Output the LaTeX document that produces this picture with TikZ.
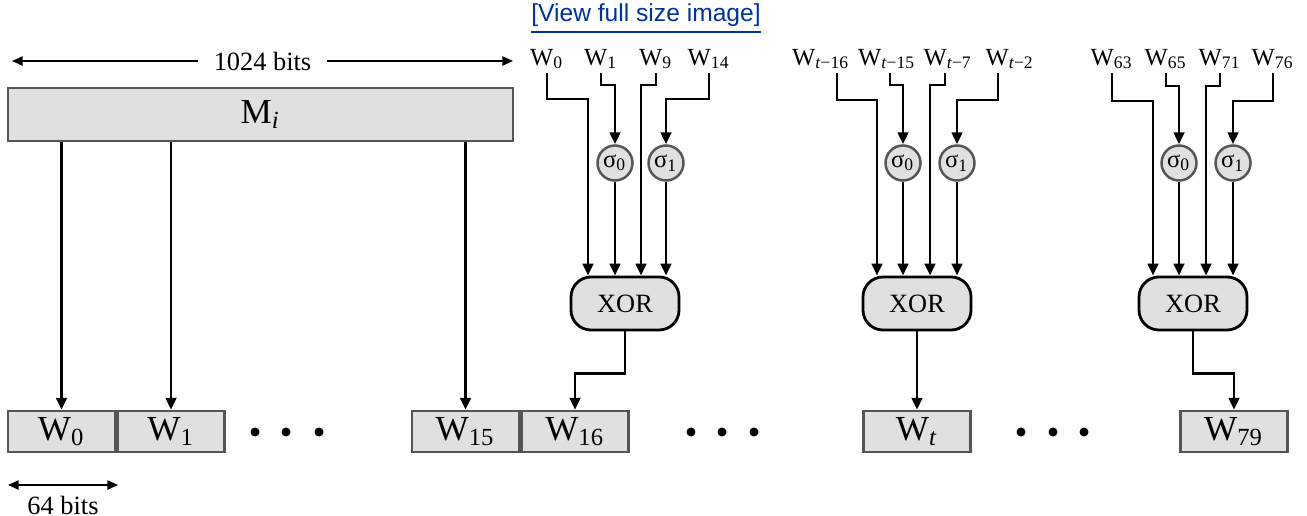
\documentclass[tikz,border=0pt]{standalone}
\usepackage{fontspec}
\setmainfont{Liberation Serif}
\newfontfamily\linkfont{Liberation Sans}
\usetikzlibrary{arrows.meta,positioning}
\definecolor{boxgray}{RGB}{224,224,224}
\definecolor{edgegray}{RGB}{85,85,85}
\definecolor{linkblue}{RGB}{0,51,153}

\begin{document}
\begin{tikzpicture}[
  x=0.01cm, y=-0.01cm,
  wbox/.style={rectangle, draw=edgegray, fill=boxgray, line width=0.7pt, minimum width=1.07cm, minimum height=0.41cm, inner sep=0pt, font=\fontsize{10}{12}\selectfont},
  xorbox/.style={rectangle, rounded corners=0.2cm, draw, fill=boxgray, line width=0.8pt, minimum width=1.08cm, minimum height=0.53cm, inner sep=0pt, font=\fontsize{7.5}{9}\selectfont},
  sig/.style={circle, draw=edgegray, fill=boxgray, line width=0.7pt, minimum size=0.35cm, inner sep=0pt, font=\fontsize{7}{8}\selectfont},
  lbl/.style={anchor=south, inner sep=1pt, font=\fontsize{7}{8}\selectfont},
  arr/.style={draw, line width=0.8pt, -{Triangle[length=3.4pt,width=3pt]}},
  dim/.style={draw, line width=0.5pt, {Triangle[length=3pt,width=2.6pt]}-{Triangle[length=3pt,width=2.6pt]}},
  dot/.style={circle, fill, inner sep=0pt, minimum size=0.09cm}
]
\useasboundingbox (0,0) rectangle (1307,516);

\node[text=linkblue, font=\linkfont\fontsize{7}{8}\selectfont] (link) at (646,19) {\underline{[View full size image]}};

% message block
\coordinate (dl) at (12,61);
\coordinate (dr) at (513,61);
\draw[dim] (dl) -- node[fill=white, inner sep=4.5pt, font=\fontsize{7.5}{9}\selectfont] {1024 bits} (dr);
\node[wbox, minimum width=5.05cm, minimum height=0.53cm] (mi) at (260.5,114.5) {M\textsubscript{\textit{i}}};

% word row
\node[wbox] (w0) at (61.5,431.5) {W\textsubscript{0}};
\node[wbox, right=0pt of w0] (w1) {W\textsubscript{1}};
\node[wbox] (w15) at (465.5,431.5) {W\textsubscript{15}};
\node[wbox, right=0pt of w15] (w16) {W\textsubscript{16}};
\node[wbox] (wt) at (917,431.5) {W\textsubscript{\textit{t}}};
\node[wbox] (w79) at (1234,431.5) {W\textsubscript{79}};
\foreach \x in {255,286,319,691,722,754,1021,1053,1084}
  \node[dot] at (\x,432) {};

\coordinate (bl) at (8,485);
\coordinate (br) at (118,485);
\draw[dim] (bl) -- (br);
\node[font=\fontsize{7.5}{9}\selectfont] (bits) at (63,505) {64 bits};

\draw[arr] (w0 |- mi.south) -- (w0.north);
\draw[arr] (w1 |- mi.south) -- (w1.north);
\draw[arr] (w15 |- mi.south) -- (w15.north);

% first expansion
\node[lbl] (a0) at (547,73) {W\textsubscript{0}};
\node[lbl] (a1) at (601,73) {W\textsubscript{1}};
\node[lbl] (a2) at (656,73) {W\textsubscript{9}};
\node[lbl] (a3) at (709,73) {W\textsubscript{14}};
\node[sig] (s10) at (615,163) {σ\textsubscript{0}};
\node[sig] (s11) at (666,163) {σ\textsubscript{1}};
\node[xorbox] (xor1) at (625,303.5) {XOR};
\draw[arr] (a0.south) -- ++(0,26) -| ([xshift=-0.37cm]xor1.north);
\draw[arr] (a1.south) -- ++(0,12) -| (s10.north);
\draw[arr] (s10.south) -- (s10 |- xor1.north);
\draw[arr] (a2.south) -- ++(0,12) -| ([xshift=0.16cm]xor1.north);
\draw[arr] (a3.south) -- ++(0,26) -| (s11.north);
\draw[arr] (s11.south) -- (s11 |- xor1.north);
\draw[arr] (xor1.south) -- ++(0,42) -| (w16.north);

% general step t
\node[lbl] (b0) at (821,73) {W\textsubscript{\textit{t}−16}};
\node[lbl] (b1) at (887,73) {W\textsubscript{\textit{t}−15}};
\node[lbl] (b2) at (948,73) {W\textsubscript{\textit{t}−7}};
\node[lbl] (b3) at (1010,73) {W\textsubscript{\textit{t}−2}};
\node[sig] (s20) at (903,163) {σ\textsubscript{0}};
\node[sig] (s21) at (957,163) {σ\textsubscript{1}};
\node[xorbox] (xor2) at (917,303.5) {XOR};
\draw[arr] ([xshift=0.16cm]b0.south) -- ++(0,27) -| ([xshift=-0.4cm]xor2.north);
\draw[arr] ([xshift=0.03cm]b1.south) -- ++(0,12) -| (s20.north);
\draw[arr] (s20.south) -- (s20 |- xor2.north);
\draw[arr] ([xshift=-0.03cm]b2.south) -- ++(0,12) -| ([xshift=0.13cm]xor2.north);
\draw[arr] ([xshift=-0.12cm]b3.south) -- ++(0,27) -| (s21.north);
\draw[arr] (s21.south) -- (s21 |- xor2.north);
\draw[arr] (xor2.south) -- (wt.north);

% last step
\node[lbl] (c0) at (1112,73) {W\textsubscript{63}};
\node[lbl] (c1) at (1166,73) {W\textsubscript{65}};
\node[lbl] (c2) at (1220,73) {W\textsubscript{71}};
\node[lbl] (c3) at (1273,73) {W\textsubscript{76}};
\node[sig] (s30) at (1179,163) {σ\textsubscript{0}};
\node[sig] (s31) at (1233,163) {σ\textsubscript{1}};
\node[xorbox] (xor3) at (1193,303.5) {XOR};
\draw[arr] (c0.south) -- ++(0,28) -| ([xshift=-0.4cm]xor3.north);
\draw[arr] (c1.south) -- ++(0,13) -| (s30.north);
\draw[arr] (s30.south) -- (s30 |- xor3.north);
\draw[arr] (c2.south) -- ++(0,13) -| ([xshift=0.13cm]xor3.north);
\draw[arr] (c3.south) -- ++(0,28) -| (s31.north);
\draw[arr] (s31.south) -- (s31 |- xor3.north);
\draw[arr] (xor3.south) -- ++(0,42) -| (w79.north);
\end{tikzpicture}
\end{document}
